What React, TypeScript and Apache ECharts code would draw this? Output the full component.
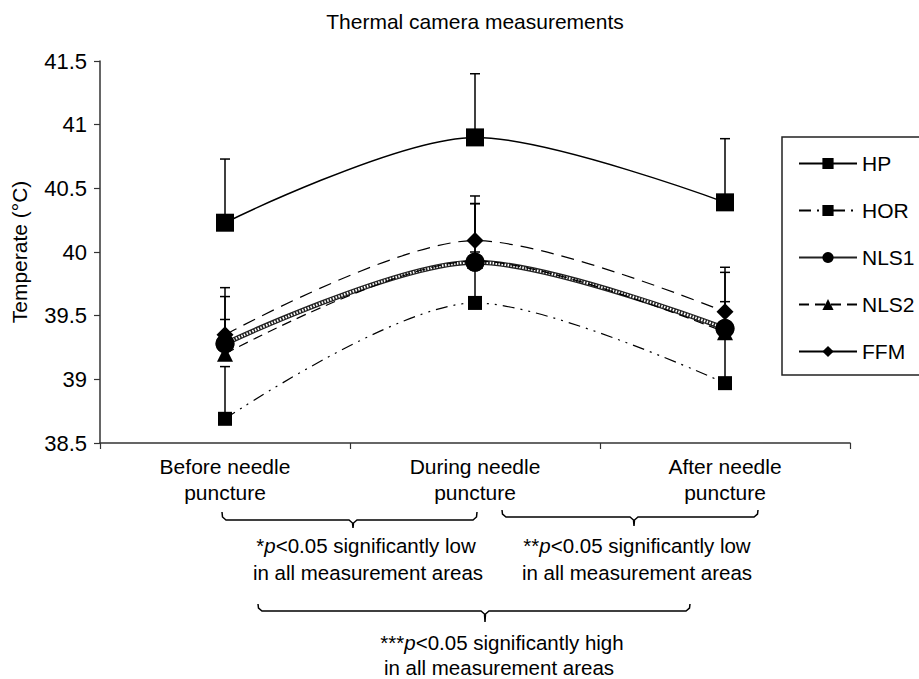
import React, { useEffect, useRef } from "react";
import * as echarts from "echarts";

const categories = ["Before needle\npuncture", "During needle\npuncture", "After needle\npuncture"];
const hp = [40.23, 40.9, 40.39];
const hpErr = [0.5, 0.5, 0.5];
const hor = [38.69, 39.6, 38.97];
const horErr = [0.41, 0.4, 0.4];
const nls1 = [39.28, 39.92, 39.4];
const nls1Err = [0.19, 0.46, 0.21];
const nls2 = [39.2, 39.93, 39.37];
const nls2Err = [0.45, 0.45, 0.47];
const ffm = [39.35, 40.09, 39.53];
const ffmErr = [0.37, 0.35, 0.35];
const yMin = 38.5;
const yMax = 41.5;
const yStep = 0.5;

const FONT = '"Liberation Sans", Arial, Helvetica, sans-serif';
const SMOOTH = 0.3;

function bracePoints(x1: number, x2: number, xc: number, yTop: number, yLine: number, yTip: number) {
  return [
    [x1, yTop],
    [x1 + 0.5, yLine - 3],
    [x1 + 4, yLine],
    [xc - 4, yLine],
    [xc - 0.5, yLine + 3],
    [xc, yTip],
    [xc + 0.5, yLine + 3],
    [xc + 4, yLine],
    [x2 - 4, yLine],
    [x2 - 0.5, yLine - 3],
    [x2, yTop],
  ];
}

function sigText(x: number, y: number, stars: string, rest: string) {
  return {
    type: "text",
    x,
    y,
    style: {
      text: `{a|${stars}}{b|p}{a|${rest}}`,
      rich: {
        a: { fontSize: 20.5, fontFamily: FONT, fill: "#000" },
        b: { fontSize: 20.5, fontFamily: FONT, fontStyle: "italic", fill: "#000" },
      },
      fill: "#000",
      align: "center",
      verticalAlign: "middle",
      textAlign: "center",
      textVerticalAlign: "middle",
    },
  };
}

function plainText(x: number, y: number, text: string) {
  return {
    type: "text",
    x,
    y,
    style: {
      text,
      fontSize: 20.5,
      fontFamily: FONT,
      fill: "#000",
      align: "center",
      verticalAlign: "middle",
      textAlign: "center",
      textVerticalAlign: "middle",
    },
  };
}

export default function App() {
  const ref = useRef<HTMLDivElement>(null);

  useEffect(() => {
    if (!ref.current) return;
    const chart = echarts.init(ref.current, null, { renderer: "svg" });

    const errData: any[] = [];
    const groups = [
      [hp, hpErr],
      [hor, horErr],
      [nls1, nls1Err],
      [nls2, nls2Err],
      [ffm, ffmErr],
    ];
    groups.forEach(([vals, errs]) => {
      vals.forEach((v, i) => errData.push([i, v, errs[i]]));
    });

    const black = "#000";

    const option: any = {
      animation: false,
      backgroundColor: "#fff",
      textStyle: { fontFamily: FONT, color: black },
      grid: { left: 100, right: 69, top: 61, bottom: 236, containLabel: false },
      legend: {
        orient: "vertical",
        left: 782,
        top: 137,
        padding: [16, 40, 13, 16],
        itemGap: 26,
        itemWidth: 58,
        itemHeight: 14,
        borderColor: "#222",
        borderWidth: 1.5,
        textStyle: { fontSize: 21, color: black, fontFamily: FONT },
        data: [
          { name: "HP" },
          { name: "HOR" },
          { name: "NLS1" },
          { name: "NLS2" },
          { name: "FFM", lineStyle: { type: "solid" } },
        ],
      },
      xAxis: {
        type: "category",
        data: categories,
        boundaryGap: true,
        axisLine: { lineStyle: { color: "#333", width: 1.5 } },
        axisTick: { show: true, length: 6, lineStyle: { color: "#333", width: 1.2 } },
        axisLabel: { fontSize: 21, color: black, lineHeight: 26, margin: 10, fontFamily: FONT },
        splitLine: { show: false },
      },
      yAxis: {
        type: "value",
        min: yMin,
        max: yMax,
        interval: yStep,
        name: "Temperate (°C)",
        nameLocation: "middle",
        nameGap: 70,
        nameRotate: 90,
        nameTextStyle: { fontSize: 21, color: black, fontFamily: FONT },
        axisLine: { show: true, lineStyle: { color: "#333", width: 1.5 } },
        axisTick: { show: true, length: 6, lineStyle: { color: "#333", width: 1.2 } },
        axisLabel: { fontSize: 22, color: black, margin: 13, fontFamily: FONT },
        splitLine: { show: false },
      },
      series: [
        {
          name: "errors",
          type: "custom",
          z: 1,
          data: errData,
          encode: { x: 0, y: 1 },
          renderItem: (params: any, api: any) => {
            const x = api.value(0);
            const y = api.value(1);
            const e = api.value(2);
            const p0 = api.coord([x, y]);
            const p1 = api.coord([x, y + e]);
            return {
              type: "group",
              children: [
                {
                  type: "line",
                  shape: { x1: p0[0], y1: p0[1], x2: p1[0], y2: p1[1] },
                  style: { stroke: black, lineWidth: 1.5 },
                },
                {
                  type: "line",
                  shape: { x1: p1[0] - 5, y1: p1[1], x2: p1[0] + 5, y2: p1[1] },
                  style: { stroke: black, lineWidth: 1.5 },
                },
              ],
            };
          },
        },
        {
          name: "HP",
          type: "line",
          data: hp,
          smooth: SMOOTH,
          symbol: "rect",
          symbolSize: 18,
          itemStyle: { color: black },
          lineStyle: { color: black, width: 1.5, type: "solid" },
          z: 2,
        },
        {
          name: "HOR",
          type: "line",
          data: hor,
          smooth: SMOOTH,
          symbol: "rect",
          symbolSize: 14,
          itemStyle: { color: black },
          lineStyle: { color: black, width: 1.2, type: [12, 6, 2, 6, 2, 6] },
          z: 2,
        },
        {
          name: "NLS1",
          type: "line",
          data: nls1,
          smooth: SMOOTH,
          symbol: "circle",
          symbolSize: 19,
          itemStyle: { color: black },
          lineStyle: { color: "#222", width: 5, type: "solid" },
          z: 2,
        },
        {
          name: "NLS1 pattern",
          type: "line",
          data: nls1,
          smooth: SMOOTH,
          symbol: "none",
          lineStyle: { color: "#fff", width: 2.5, type: [1.5, 1.5] },
          z: 2,
          silent: true,
        },
        {
          name: "NLS1 marks",
          type: "scatter",
          data: nls1,
          symbol: "circle",
          symbolSize: 19,
          itemStyle: { color: black },
          z: 3,
          silent: true,
        },
        {
          name: "NLS2",
          type: "line",
          data: nls2,
          smooth: SMOOTH,
          symbol: "triangle",
          symbolSize: 16,
          itemStyle: { color: black },
          lineStyle: { color: black, width: 1.2, type: [10, 6] },
          z: 2,
        },
        {
          name: "FFM",
          type: "line",
          data: ffm,
          smooth: SMOOTH,
          symbol: "diamond",
          symbolSize: 17,
          itemStyle: { color: black },
          lineStyle: { color: black, width: 1.2, type: [13, 8] },
          z: 2,
        },
      ],
      graphic: [
        {
          type: "text",
          x: 475,
          y: 21,
          style: {
            text: "Thermal camera measurements",
            fontSize: 21,
            fontFamily: FONT,
            fill: black,
            align: "center",
            verticalAlign: "middle",
            textAlign: "center",
            textVerticalAlign: "middle",
          },
        },
        {
          type: "polyline",
          shape: { points: bracePoints(222, 477, 353, 512, 520, 528) },
          style: { stroke: black, lineWidth: 1.5, fill: null },
        },
        {
          type: "polyline",
          shape: { points: bracePoints(502, 758, 634, 510, 517, 526) },
          style: { stroke: black, lineWidth: 1.5, fill: null },
        },
        {
          type: "polyline",
          shape: { points: bracePoints(258, 690, 485, 604, 611, 622) },
          style: { stroke: black, lineWidth: 1.5, fill: null },
        },
        sigText(366, 545, "*", "<0.05 significantly low"),
        plainText(368, 572, "in all measurement areas"),
        sigText(637, 545, "**", "<0.05 significantly low"),
        plainText(637, 572, "in all measurement areas"),
        sigText(502, 642, "***", "<0.05 significantly high"),
        plainText(499, 667, "in all measurement areas"),
      ],
    };

    chart.setOption(option);
    return () => chart.dispose();
  }, []);

  return (
    <div
      ref={ref}
      style={{ position: "fixed", left: 0, top: 0, width: 919, height: 679, background: "#fff" }}
    />
  );
}
